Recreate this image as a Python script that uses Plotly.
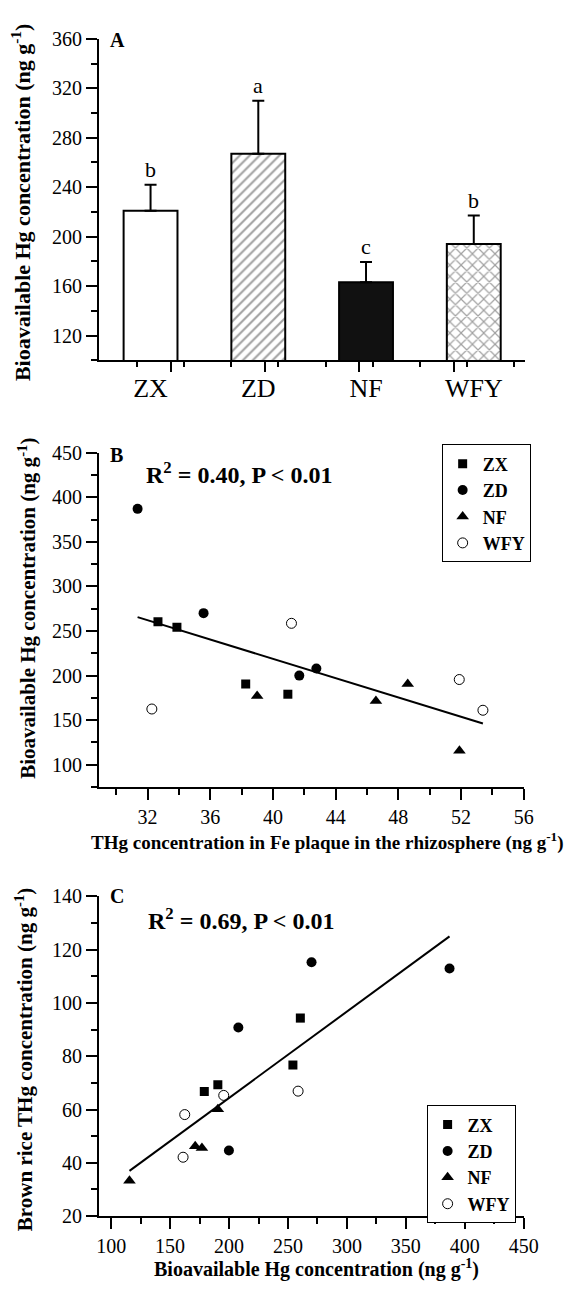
import numpy as np
import plotly.graph_objects as go

W, H = 577, 1291
SERIF = "Liberation Serif"

# ---------------- data ----------------
# Panel A: mean bioavailable Hg per cultivar (ng/g) with SD
cultivars = ["ZX", "ZD", "NF", "WFY"]
bio_mean = [221, 267, 163, 194]
bio_sd = [21, 43, 16.5, 23]
sig_letters = ["b", "a", "c", "b"]

# Panels B & C: individual samples
sample_group = ["ZX", "ZX", "ZX", "ZX",
                "ZD", "ZD", "ZD", "ZD",
                "NF", "NF", "NF", "NF",
                "WFY", "WFY", "WFY", "WFY"]
fe_thg = [32.66, 33.87, 38.26, 40.95,
          31.36, 35.57, 41.68, 42.77,
          38.99, 46.57, 48.6, 51.9,
          32.27, 41.18, 51.89, 53.4]
bio_hg = [260.5, 254.2, 190.5, 179.0,
          387.1, 270.0, 199.9, 207.9,
          177.0, 171.3, 190.5, 115.5,
          162.4, 258.6, 195.5, 161.0]
rice_thg = [94.3, 76.7, 69.3, 66.8,
            112.9, 115.3, 44.6, 90.8,
            45.6, 46.2, 60.1, 33.3,
            58.1, 66.9, 65.3, 42.1]

r2_text_b = "R<sup>2</sup> = 0.40, P &lt; 0.01"
r2_text_c = "R<sup>2</sup> = 0.69, P &lt; 0.01"

# ---------------- styles ----------------
marker_style = {
    "ZX": dict(symbol="square", size=9, color="black", line=dict(width=0)),
    "ZD": dict(symbol="circle", size=10, color="black", line=dict(width=0)),
    "NF": dict(symbol="triangle-up", size=11, color="black", line=dict(width=0)),
    "WFY": dict(symbol="circle", size=10, color="white", line=dict(width=1, color="black")),
}


def dx(a, b):
    return [a / W, b / W]


def dy(top, bottom):
    return [1 - bottom / H, 1 - top / H]


def px(x):
    return x / W


def py(y):
    return 1 - y / H


fig = go.Figure()

# ---- Panel A bars ----
fig.add_trace(go.Bar(
    x=[1, 2, 3, 4], y=bio_mean, width=0.5,
    marker=dict(
        color=["white", "white", "#111111", "white"],
        line=dict(color="black", width=2),
        pattern=dict(shape=["", "/", "", "x"], size=[7, 7, 7, 8],
                     solidity=[0.2, 0.3, 0.2, 0.28], fgcolor="black"),
    ),
    error_y=dict(type="data", array=bio_sd, arrayminus=[0, 0, 0, 0], symmetric=False,
                 color="black", thickness=2, width=6),
    xaxis="x", yaxis="y", showlegend=False, hoverinfo="skip",
))
# helper (invisible) trace for the tick-mark overlay axis
fig.add_trace(go.Scatter(x=[1, 2, 3, 4], y=bio_mean, xaxis="x4", yaxis="y", mode="markers",
                         marker=dict(opacity=0), showlegend=False, hoverinfo="skip"))

# ---- Panel B & C scatter ----
grp = np.array(sample_group)
fe = np.array(fe_thg)
bio = np.array(bio_hg)
rice = np.array(rice_thg)
for c in cultivars:
    m = grp == c
    fig.add_trace(go.Scatter(x=fe[m], y=bio[m], mode="markers", name=c, marker=marker_style[c],
                             xaxis="x2", yaxis="y2", legend="legend"))
    fig.add_trace(go.Scatter(x=bio[m], y=rice[m], mode="markers", name=c, marker=marker_style[c],
                             xaxis="x3", yaxis="y3", legend="legend2"))

# regression lines
kb = np.polyfit(fe, bio, 1)
xb = np.array([fe.min(), fe.max()])
fig.add_trace(go.Scatter(x=xb, y=np.polyval(kb, xb), mode="lines", line=dict(color="black", width=2),
                         xaxis="x2", yaxis="y2", showlegend=False))
kc = np.polyfit(bio, rice, 1)
xc = np.array([bio.min(), bio.max()])
fig.add_trace(go.Scatter(x=xc, y=np.polyval(kc, xc), mode="lines", line=dict(color="black", width=2),
                         xaxis="x3", yaxis="y3", showlegend=False))

# ---------------- axes ----------------
tickfont = dict(family=SERIF, size=20, color="black")
base = dict(showline=True, linecolor="black", linewidth=2, ticks="outside", ticklen=11, tickwidth=2,
            tickcolor="black", showgrid=False, zeroline=False, tickfont=tickfont, fixedrange=True)


def minor(d):
    return dict(ticks="outside", ticklen=6, tickwidth=2, tickcolor="black", dtick=d, showgrid=False)


xA = dx(100, 538.6)
xBC = dx(100, 537.5)
fig.update_layout(
    xaxis=dict(base, domain=xA, range=[0.522, 4.473], anchor="y", tickvals=[1, 2, 3, 4],
               ticktext=cultivars, ticks="", tickfont=dict(family=SERIF, size=26, color="black"),
               ticklabelstandoff=4),
    xaxis4=dict(base, domain=xA, range=[0.522, 4.473], anchor="y", overlaying="x", showline=False,
                tick0=1.1875, dtick=0.875, showticklabels=False, minor=minor(0.4375)),
    yaxis=dict(base, domain=dy(28.3, 355.3), range=[100, 360], anchor="x", tick0=120, dtick=40,
               minor=minor(20)),
    xaxis2=dict(base, domain=xBC, range=[28.9, 56], anchor="y2", tick0=32, dtick=4, minor=minor(2)),
    yaxis2=dict(base, domain=dy(449.5, 789.3), range=[75, 450], anchor="x2", tick0=100, dtick=50,
                minor=minor(25)),
    xaxis3=dict(base, domain=xBC, range=[89.7, 450], anchor="y3", tick0=100, dtick=50, minor=minor(25)),
    yaxis3=dict(base, domain=dy(900.7, 1226), range=[20, 140], anchor="x3", tick0=20, dtick=20,
                minor=minor(10)),
)

legend_common = dict(bordercolor="black", borderwidth=1, bgcolor="white",
                     font=dict(family=SERIF, size=18, color="black", weight="bold"),
                     xanchor="left", yanchor="top", tracegroupgap=0)
fig.update_layout(
    legend=dict(legend_common, x=px(453), y=py(441)),
    legend2=dict(legend_common, x=px(437.5), y=py(1113.3)),
)

# ---------------- annotations ----------------
ann = []
for lab, yy in [("A", 29), ("B", 451.7), ("C", 900.7)]:
    ann.append(dict(text=f"<b>{lab}</b>", x=px(109), y=py(yy), xref="paper", yref="paper",
                    xanchor="left", yanchor="middle", showarrow=False,
                    font=dict(family=SERIF, size=20, color="black")))
for i, (lt, m, s) in enumerate(zip(sig_letters, bio_mean, bio_sd)):
    ann.append(dict(text=lt, x=i + 1, y=m + s, xref="x", yref="y", xanchor="center", yanchor="bottom",
                    yshift=1, showarrow=False, font=dict(family=SERIF, size=22, color="black")))
ann.append(dict(text=f"<b>{r2_text_b}</b>", x=px(146), y=py(470), xref="paper", yref="paper",
                xanchor="left", yanchor="middle", showarrow=False,
                font=dict(family=SERIF, size=24, color="black")))
ann.append(dict(text=f"<b>{r2_text_c}</b>", x=px(148), y=py(924), xref="paper", yref="paper",
                xanchor="left", yanchor="middle", showarrow=False,
                font=dict(family=SERIF, size=24, color="black")))

tfont = dict(family=SERIF, color="black")
ann.append(dict(text="<b>Bioavailable Hg concentration (ng g<sup>-1</sup>)</b>", textangle=-90,
                x=px(19), y=py(195), xref="paper", yref="paper", xanchor="center", yanchor="middle",
                showarrow=False, font=dict(tfont, size=22)))
ann.append(dict(text="<b>Bioavailable Hg concentration (ng g<sup>-1</sup>)</b>", textangle=-90,
                x=px(26), y=py(608), xref="paper", yref="paper", xanchor="center", yanchor="middle",
                showarrow=False, font=dict(tfont, size=21)))
ann.append(dict(text="<b>Brown rice THg concentration (ng g<sup>-1</sup>)</b>", textangle=-90,
                x=px(23), y=py(1067), xref="paper", yref="paper", xanchor="center", yanchor="middle",
                showarrow=False, font=dict(tfont, size=21)))
ann.append(dict(text="<b>THg concentration in Fe plaque in the rhizosphere (ng g<sup>-1</sup>)</b>",
                x=px(335.5), y=py(845), xref="paper", yref="paper", xanchor="center", yanchor="middle",
                showarrow=False, font=dict(tfont, size=19)))
ann.append(dict(text="<b>Bioavailable Hg concentration (ng g<sup>-1</sup>)</b>",
                x=px(324.5), y=py(1279), xref="paper", yref="paper", xanchor="center", yanchor="middle",
                showarrow=False, font=dict(tfont, size=20)))

fig.update_layout(
    width=W, height=H, margin=dict(l=0, r=0, t=0, b=0, pad=0),
    paper_bgcolor="white", plot_bgcolor="white", annotations=ann,
    bargap=0.5,
)

fig.write_html("out.html", config={"displayModeBar": False},
               post_script="document.body.style.margin='0';")
